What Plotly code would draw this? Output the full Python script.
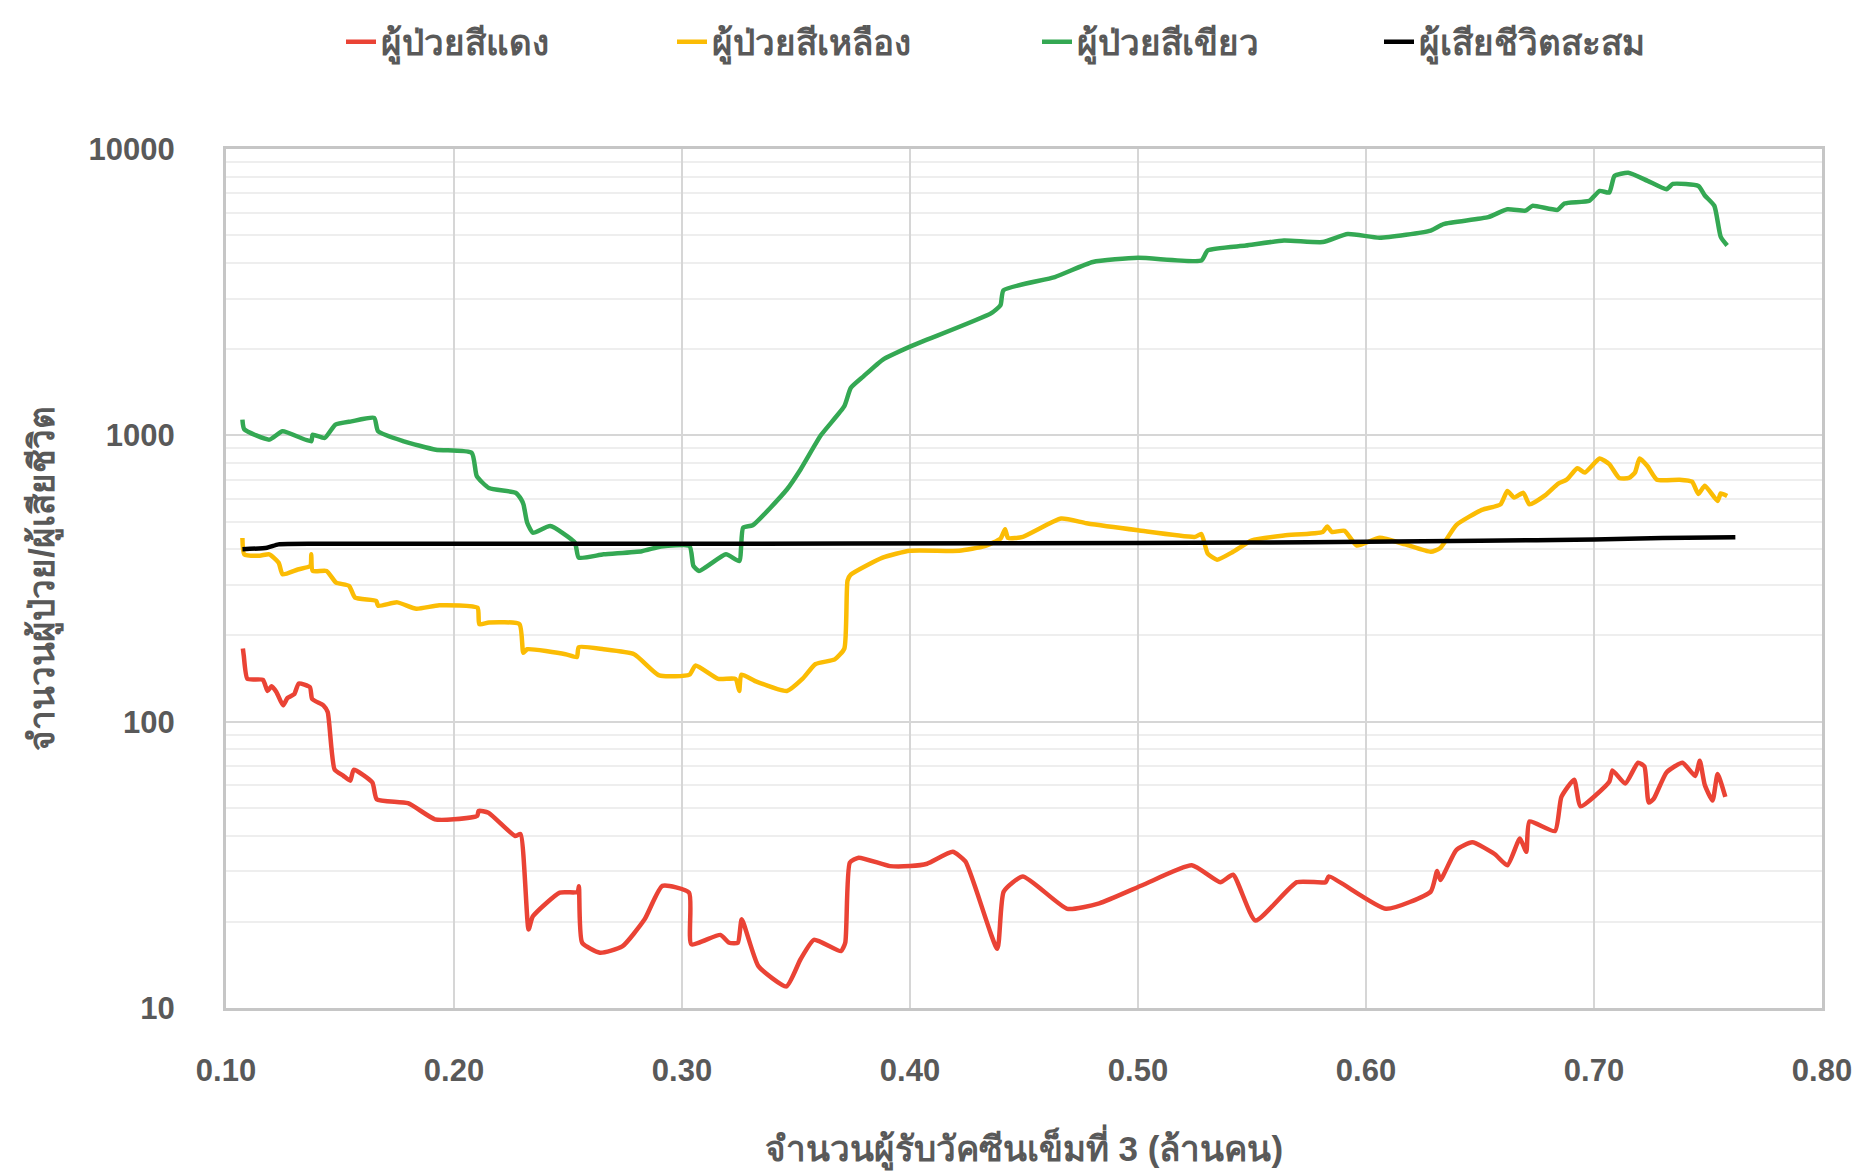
import plotly.graph_objects as go

# ---------------- data ----------------
red_x = [0.1074, 0.1078, 0.1094, 0.1162, 0.1182, 0.1200, 0.1221, 0.125, 0.127, 0.13, 0.1319, 0.1368, 0.1378,
         0.1427, 0.1446, 0.1476, 0.1515, 0.1545, 0.156, 0.1642, 0.1661, 0.1798, 0.1916, 0.20, 0.2102, 0.2108,
         0.2151, 0.2268, 0.2292, 0.2327, 0.2346, 0.2464, 0.2542, 0.2548, 0.2562, 0.264, 0.2738, 0.2836, 0.2914,
         0.3031, 0.3041, 0.3168, 0.3207, 0.3245, 0.3262, 0.3335, 0.3458, 0.352, 0.3579, 0.3697, 0.3716, 0.3736,
         0.3775, 0.3912, 0.40, 0.4075, 0.4187, 0.4243, 0.4383, 0.4411, 0.4495, 0.469, 0.483, 0.5026, 0.5236,
         0.5361, 0.5417, 0.5515, 0.5697, 0.5823, 0.5837, 0.6088, 0.6284, 0.6312, 0.6326, 0.6396, 0.6466, 0.6564,
         0.662, 0.6675, 0.6703, 0.6717, 0.6829, 0.6857, 0.6913, 0.6941, 0.7067, 0.7081, 0.7137, 0.7193, 0.7221,
         0.724, 0.7262, 0.7318, 0.7388, 0.7444, 0.7464, 0.7486, 0.752, 0.7542, 0.7576]
red_y = [180, 170, 141, 140, 128, 133, 127, 114, 121, 125, 136, 132, 120,
         114, 108, 68.2, 64.7, 62.2, 67.9, 61.3, 53.6, 51.9, 45.6, 45.6, 46.9, 48.8,
         48.1, 39.9, 40.5, 18.8, 20.9, 25.3, 25.4, 26.6, 16.9, 15.6, 16.4, 20.4, 26.7,
         25.3, 16.7, 18.0, 16.9, 16.9, 20.4, 14.0, 11.9, 14.8, 17.3, 15.8, 16.9, 32.2,
         33.5, 31.3, 31.3, 31.9, 35.1, 32.5, 16.1, 25.5, 28.8, 22.2, 23.2, 27.0, 31.5,
         27.5, 29.2, 20.2, 27.5, 27.5, 28.8, 22.2, 25.5, 30.1, 28.0, 35.6, 37.9, 34.5,
         31.5, 39.1, 35.1, 44.8, 41.5, 54.6, 62.7, 50.6, 61.7, 67.6, 60.8, 71.9, 69.8,
         52.2, 53.8, 66.5, 71.9, 64.6, 73.0, 60.1, 53.0, 65.6, 54.6]

yellow_x = [0.1072, 0.108, 0.1148, 0.119, 0.1231, 0.1248, 0.1315, 0.1370, 0.1374, 0.1380, 0.1441, 0.1483,
            0.154, 0.1566, 0.1659, 0.1667, 0.1751, 0.1835, 0.1935, 0.2103, 0.2111, 0.2153, 0.2287, 0.2304,
            0.2321, 0.2489, 0.2539, 0.2547, 0.2656, 0.279, 0.29, 0.3033, 0.3059, 0.3159, 0.3235, 0.3251,
            0.3260, 0.3327, 0.346, 0.3528, 0.3586, 0.367, 0.3712, 0.3726, 0.374, 0.388, 0.40, 0.4215, 0.4327,
            0.4397, 0.4417, 0.443, 0.4495, 0.4663, 0.4774, 0.50, 0.525, 0.5278, 0.5306, 0.5347, 0.5417, 0.55,
            0.564, 0.581, 0.583, 0.585, 0.5906, 0.596, 0.606, 0.6172, 0.6284, 0.6326, 0.6396, 0.6508, 0.659,
            0.662, 0.665, 0.669, 0.6717, 0.6787, 0.6843, 0.688, 0.6927, 0.696, 0.7025, 0.7067, 0.711, 0.7153,
            0.718, 0.72, 0.7235, 0.7276, 0.7374, 0.743, 0.7458, 0.7486, 0.7542, 0.7556, 0.7584]
yellow_y = [438, 384, 380, 384, 359, 327, 340, 350, 384, 336, 336, 306,
            298, 271, 264, 254, 261, 248, 255, 250, 219, 222, 219, 174,
            179, 172, 168, 182, 179, 172, 145, 146, 157, 141, 141, 128,
            146, 138, 128, 141, 159, 165, 180, 311, 326, 374, 395, 395, 410,
            436, 470, 438, 442, 512, 493, 466, 442, 452, 386, 368, 392, 430,
            447, 460, 480, 460, 464, 412, 439, 416, 392, 404, 486, 549, 574,
            639, 606, 630, 574, 618, 678, 700, 767, 742, 830, 793, 710, 710,
            742, 830, 780, 700, 700, 689, 624, 667, 590, 627, 614]

green_x = [0.1072, 0.108, 0.119, 0.1248, 0.1374, 0.1380, 0.1433, 0.148, 0.155, 0.165, 0.1667, 0.178, 0.192,
           0.2078, 0.21, 0.2153, 0.227, 0.2295, 0.2305, 0.2321, 0.2346, 0.2422, 0.253, 0.2547, 0.2656, 0.2824,
           0.2908, 0.3033, 0.305, 0.3075, 0.3193, 0.3251, 0.3268, 0.331, 0.346, 0.352, 0.3609, 0.3712, 0.374,
           0.3796, 0.388, 0.40, 0.4355, 0.4397, 0.441, 0.4635, 0.4802, 0.50, 0.5278, 0.5306, 0.5473, 0.564,
           0.581, 0.592, 0.606, 0.6284, 0.634, 0.6536, 0.662, 0.67, 0.673, 0.684, 0.687, 0.698, 0.7025,
           0.7067, 0.709, 0.715, 0.7235, 0.7318, 0.7346, 0.7458, 0.7486, 0.7528, 0.7556, 0.7584]
green_y = [1135, 1050, 966, 1033, 953, 1005, 979, 1090, 1119, 1150, 1033, 953, 891,
           868, 720, 655, 630, 597, 573, 495, 457, 482, 422, 374, 384, 394,
           409, 411, 350, 336, 384, 364, 476, 485, 647, 760, 1000, 1264, 1464,
           1607, 1836, 2040, 2665, 2850, 3213, 3572, 4030, 4170, 4080, 4425, 4600, 4790,
           4730, 5050, 4900, 5190, 5470, 5780, 6160, 6090, 6330, 6130, 6450, 6600, 7140,
           7050, 8050, 8260, 7740, 7240, 7550, 7430, 6880, 6330, 4930, 4600]

black_x = [0.1072, 0.118, 0.123, 0.14, 0.30, 0.45, 0.55, 0.60, 0.65, 0.70, 0.73, 0.762]
black_y = [400, 405, 416, 418, 418, 420, 422, 425, 428, 433, 438, 441]

series_names = ["ผู้ป่วยสีแดง", "ผู้ป่วยสีเหลือง", "ผู้ป่วยสีเขียว", "ผู้เสียชีวิตสะสม"]
series_colors = ["#EA4335", "#FBBC04", "#34A853", "#000000"]
legend_widths = [286, 320, 297, 240]

x_ticks = [0.10, 0.20, 0.30, 0.40, 0.50, 0.60, 0.70, 0.80]
x_tick_labels = ["0.10", "0.20", "0.30", "0.40", "0.50", "0.60", "0.70", "0.80"]
y_ticks = [10, 100, 1000, 10000]
y_tick_labels = ["10", "100", "1000", "10000"]
y_minor = [m * d for d in (10, 100, 1000) for m in range(2, 10)]

x_title = "จำนวนผู้รับวัคซีนเข็มที่ 3 (ล้านคน)"
y_title = "จำนวนผู้ป่วย/ผู้เสียชีวิต"

# ---------------- figure ----------------
# page body has an 8px margin, so the figure is 8px smaller and margins shifted
W, H = 1862, 1167
L, R, T, B = 218, 48, 141, 167
TEXT = "#595959"
FONT = "Liberation Sans, Arial, sans-serif"

fig = go.Figure()
for name, color, lw, xs, ys in zip(series_names, series_colors, legend_widths,
                                   [red_x, yellow_x, green_x, black_x],
                                   [red_y, yellow_y, green_y, black_y]):
    fig.add_trace(go.Scatter(
        x=xs, y=ys, name=name, mode="lines", legendwidth=lw,
        line=dict(color=color, width=4.5, shape="spline", smoothing=0.5),
    ))

plot_w = W - L - R
fig.update_layout(
    width=W, height=H,
    margin=dict(l=L, r=R, t=T, b=B, pad=0, autoexpand=False),
    paper_bgcolor="white", plot_bgcolor="white",
    font=dict(family=FONT, color=TEXT, size=30),
    showlegend=True,
    legend=dict(
        orientation="h", x=(341 - 226) / plot_w, xanchor="left",
        yref="container", y=1 - 34 / H, yanchor="middle",
        font=dict(size=35, color=TEXT, weight="bold"),
        bgcolor="rgba(0,0,0,0)", tracegroupgap=0, entrywidthmode="pixels",
    ),
    xaxis=dict(
        range=[0.10, 0.80], tickvals=x_ticks, ticktext=x_tick_labels,
        showgrid=True, gridcolor="#d6d6d6", gridwidth=2,
        showline=True, linecolor="#c6c6c6", linewidth=3, mirror=True,
        ticks="outside", ticklen=33, tickcolor="rgba(0,0,0,0)",
        tickfont=dict(size=31, color=TEXT, weight="bold"),
        zeroline=False, automargin=False,
        title=dict(text=x_title, font=dict(size=35, color=TEXT, weight="bold"), standoff=50),
    ),
    yaxis=dict(
        type="log", range=[1, 4], tickvals=y_ticks, ticktext=y_tick_labels,
        showgrid=True, gridcolor="#d6d6d6", gridwidth=2,
        showline=True, linecolor="#c6c6c6", linewidth=3, mirror=True,
        ticks="outside", ticklen=42, tickcolor="rgba(0,0,0,0)",
        tickfont=dict(size=31, color=TEXT, weight="bold"),
        minor=dict(tickvals=y_minor, showgrid=True, gridcolor="#eeeeee", gridwidth=2, ticks=""),
        zeroline=False, automargin=False,
        title=dict(text=y_title, font=dict(size=35, color=TEXT, weight="bold"), standoff=24),
    ),
)

fig.write_html("out.html")
